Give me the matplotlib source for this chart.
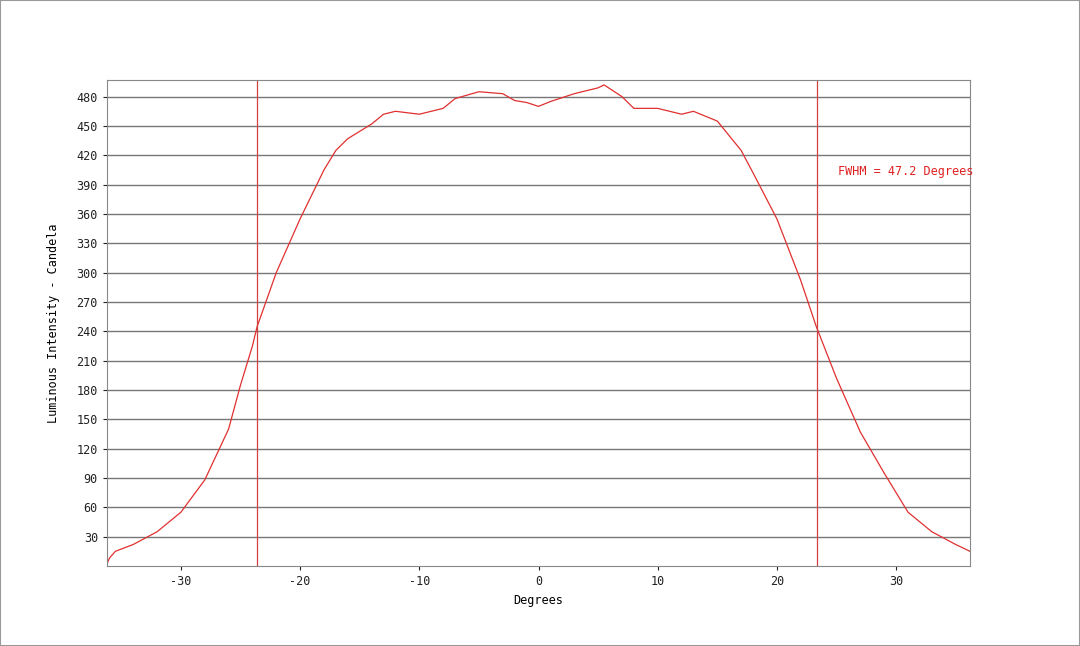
import numpy as np
import matplotlib.pyplot as plt

# angle (deg) and luminous intensity (cd)
degrees = [-36.2, -36.0, -35.5, -34, -32, -30, -28, -26, -25, -24, -23.6, -22, -20,
           -18, -17, -16, -14, -13, -12, -10, -8, -7, -5, -3, -2, -1, 0, 1, 3, 5,
           5.5, 6, 7, 8, 10, 12, 13, 15, 16, 17, 18, 20, 22, 23.3, 25, 27, 29, 31,
           33, 35, 36.2]
candela = [2, 8, 15, 22, 35, 55, 88, 140, 185, 225, 245, 300, 355,
           405, 425, 437, 452, 462, 465, 462, 468, 478, 485, 483, 476, 474, 470, 475, 483, 489,
           492, 488, 480, 468, 468, 462, 465, 455, 440, 425, 402, 355, 292, 245, 192, 137, 95, 55,
           35, 22, 15]
fwhm_left, fwhm_right = -23.6, 23.35
yticks = [30, 60, 90, 120, 150, 180, 210, 240, 270, 300, 330, 360, 390, 420, 450, 480]

plt.rcParams["font.family"] = "DejaVu Sans Mono"
plt.rcParams["axes.unicode_minus"] = False
fig = plt.figure(figsize=(10.8, 6.46), dpi=100)
ax = fig.add_axes([107 / 1080, 1 - 566 / 646, 863 / 1080, 486 / 646])

ax.plot(degrees, candela, color="#e03030", linewidth=0.9)
ax.axvline(fwhm_left, color="#d04040", linewidth=0.9)
ax.axvline(fwhm_right, color="#d04040", linewidth=0.9)
ax.text(25.1, 403, "FWHM = 47.2 Degrees", color="#e02020", fontsize=8.5, va="center")

ax.set_xlim(-36.2, 36.2)
ax.set_ylim(0, 497)
ax.set_yticks(yticks)
ax.set_xticks([-30, -20, -10, 0, 10, 20, 30])
ax.yaxis.grid(True, color="#777777", linewidth=1)
ax.set_axisbelow(True)
ax.tick_params(labelsize=8.5, length=3, colors="#222222")
for s in ax.spines.values():
    s.set_color("#888888")
ax.set_xlabel("Degrees", fontsize=8.5)
ax.set_ylabel("Luminous Intensity - Candela", fontsize=8.5, labelpad=12)

fig.patches.append(plt.Rectangle((0, 0), 1, 1, transform=fig.transFigure,
                                 fill=False, edgecolor="#999999", linewidth=1.5))
fig.savefig("out.png", dpi=100)
